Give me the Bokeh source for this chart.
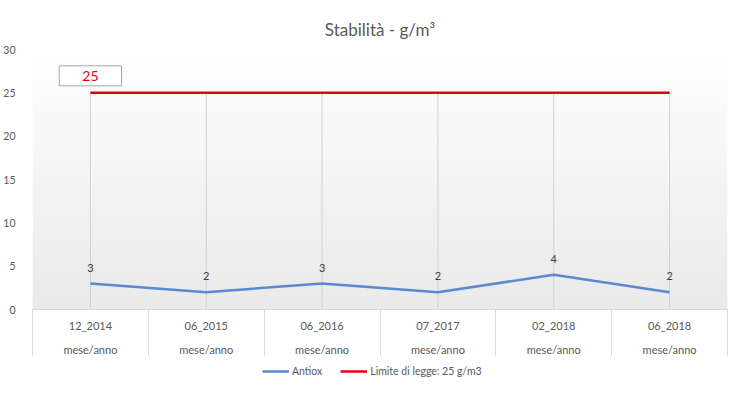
import numpy as np
from bokeh.plotting import figure
from bokeh.layouts import column
from bokeh.models import (FixedTicker, LinearAxis, Legend, LegendItem, Range1d)
from bokeh.core.properties import value
from bokeh.embed import file_html
from bokeh.resources import INLINE

# ---- data ----
dates = ["12_2014", "06_2015", "06_2016", "07_2017", "02_2018", "06_2018"]
sub_label = "mese/anno"
antiox = [3, 2, 3, 2, 4, 2]
limite = [25, 25, 25, 25, 25, 25]
y_ticks = [0, 5, 10, 15, 20, 25, 30]
title_text = "Stabilità - g/m³"
series_names = ["Antiox", "Limite di legge: 25 g/m3"]

FONT = "Lato"
GREY = "#595959"
BLUE = "#5A89CD"
RED = "#E6000F"

n = len(dates)
xs = [i + 0.5 for i in range(n)]

p = figure(width=729, height=358, output_backend="svg", toolbar_location=None,
           x_range=Range1d(0, n), y_range=Range1d(0, 30),
           min_border_left=30, min_border_right=2, min_border_top=49,
           min_border_bottom=49, x_axis_type=None)
p.outline_line_color = None
p.background_fill_color = "white"
p.border_fill_color = "white"
p.grid.visible = False

# gradient plot-area background
rows = 120
t = np.linspace(0, 1, rows)[:, None]  # 0 bottom -> 1 top
top_c = np.array([255, 255, 255])
bot_c = np.array([234, 234, 234])
cols = (bot_c + (top_c - bot_c) * t).astype(np.uint32)
img = np.empty((rows, 1), dtype=np.uint32)
view = img.view(dtype=np.uint8).reshape((rows, 1, 4))
view[:, :, 0] = cols[:, 0:1]
view[:, :, 1] = cols[:, 1:2]
view[:, :, 2] = cols[:, 2:3]
view[:, :, 3] = 255
p.image_rgba(image=[img], x=0, y=0, dw=n, dh=30)

# drop lines from limit to axis
p.segment(x0=xs, y0=[0] * n, x1=xs, y1=limite, line_color="#d0d0d0", line_width=1)

red = p.line(xs, limite, line_color=RED, line_width=2.5)
blue = p.line(xs, antiox, line_color=BLUE, line_width=2.5)

# data labels
p.text(xs, antiox, text=[str(v) for v in antiox], text_align="center",
       text_baseline="middle", y_offset=-16, text_font=value(FONT),
       text_font_size="11px", text_color="#404040")

p.text([xs[0]], [limite[0]], text=[str(limite[0])], text_align="center",
       text_baseline="middle", y_offset=-17, text_font=value(FONT),
       text_font_size="14px", text_color=RED,
       border_line_color="#a6a6a6", border_line_width=1,
       background_fill_color="white", padding=(23, 5))

# y axis
p.yaxis.ticker = FixedTicker(ticks=y_ticks)
p.yaxis.axis_line_color = None
p.yaxis.major_tick_line_color = None
p.yaxis.minor_tick_line_color = None
p.yaxis.major_label_text_font = FONT
p.yaxis.major_label_text_font_size = "10.5px"
p.yaxis.major_label_text_color = GREY
p.yaxis.major_label_standoff = 11

# category axes
ax1 = LinearAxis(ticker=FixedTicker(ticks=xs, minor_ticks=list(range(n + 1))),
                 major_label_overrides={x: d for x, d in zip(xs, dates)})
ax1.axis_line_color = "#d9d9d9"
ax1.major_tick_out = 0
ax1.major_tick_in = 0
ax1.minor_tick_out = 46
ax1.minor_tick_in = 0
ax1.minor_tick_line_color = "#d9d9d9"
ax1.major_label_text_font = FONT
ax1.major_label_text_font_size = "11px"
ax1.major_label_text_color = GREY
ax1.major_label_standoff = -37
p.add_layout(ax1, "below")

ax2 = LinearAxis(ticker=FixedTicker(ticks=xs, minor_ticks=[]),
                 major_label_overrides={x: sub_label for x in xs})
ax2.axis_line_color = None
ax2.major_tick_out = 0
ax2.major_tick_in = 0
ax2.minor_tick_out = 0
ax2.minor_tick_in = 0
ax2.major_label_text_font = FONT
ax2.major_label_text_font_size = "11px"
ax2.major_label_text_color = GREY
ax2.major_label_standoff = 8
p.add_layout(ax2, "below")

p.title.text = title_text
p.title.align = "center"
p.title.text_font = FONT
p.title.text_font_size = "17px"
p.title.text_font_style = "normal"
p.title.text_color = GREY
p.title.standoff = 20

# legend strip below the chart (legend-only renderers kept outside the visible range)
leg = figure(width=729, height=20, output_backend="svg", toolbar_location=None,
             x_axis_type=None, y_axis_type=None, min_border=0,
             x_range=Range1d(0, 1), y_range=Range1d(0, 1))
leg.outline_line_color = None
leg.grid.visible = False
lb = leg.line([5, 6], [5, 5], line_color=BLUE, line_width=2.5)
lr = leg.line([5, 6], [5, 5], line_color=RED, line_width=2.5)
legend = Legend(items=[LegendItem(label=series_names[0], renderers=[lb]),
                       LegendItem(label=series_names[1], renderers=[lr])],
                orientation="horizontal", location=(230, 0),
                border_line_color=None, background_fill_alpha=0,
                glyph_width=27, glyph_height=14, label_height=14,
                label_standoff=3, spacing=18,
                padding=0, margin=0, label_text_font=FONT,
                label_text_font_size="10.5px", label_text_color=GREY)
leg.add_layout(legend)

layout = column(p, leg, spacing=0)
open("out.html", "w").write(file_html(layout, INLINE))
